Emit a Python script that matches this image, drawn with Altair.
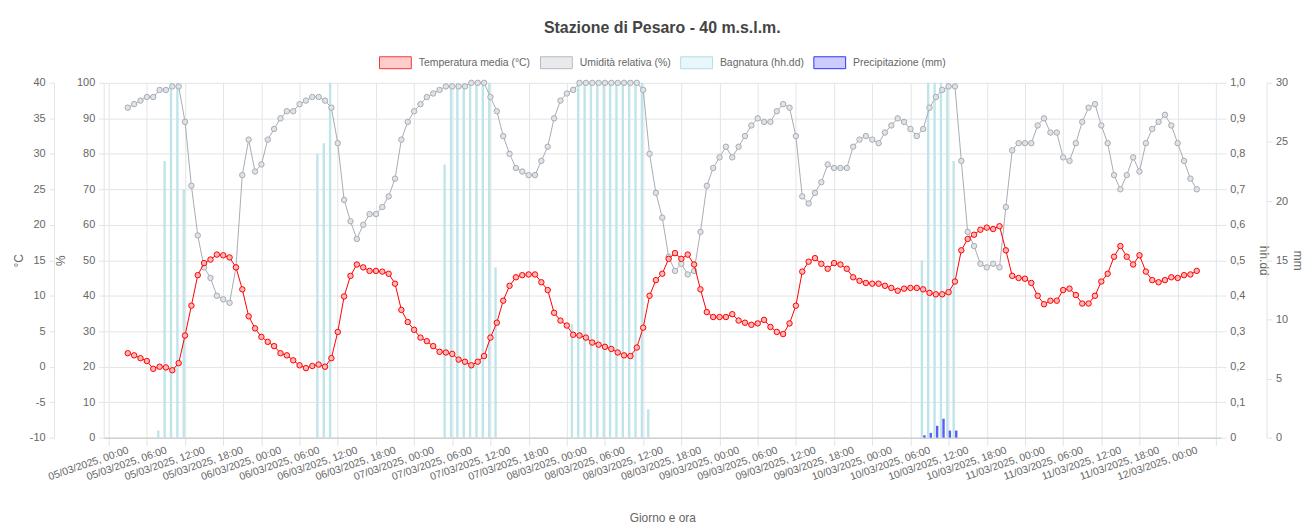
import json
import altair as alt
import pandas as pd

# ---------------- data (hourly, 05/03/2025 00:00 -> 12/03/2025 00:00) ----------------
temperature = [
    1.9, 1.6, 1.2, 0.8, -0.3, 0.0, -0.1, -0.5, 0.5, 4.4, 8.6, 12.9, 14.6, 15.1, 15.8, 15.7, 15.4, 14.0, 10.9, 7.1, 5.4, 4.2, 3.5, 2.9,
    1.9, 1.6, 0.9, 0.2, -0.2, 0.1, 0.3, 0.0, 1.2, 4.9, 9.9, 12.8, 14.4, 14.0, 13.5, 13.5, 13.4, 13.1, 11.7, 8.0, 6.3, 5.2, 4.1, 3.6,
    2.9, 2.1, 2.0, 1.8, 1.0, 0.7, 0.2, 0.7, 1.5, 4.1, 6.2, 9.3, 11.4, 12.6, 12.9, 13.0, 13.0, 11.9, 10.8, 7.6, 6.5, 5.8, 4.5, 4.4,
    4.1, 3.4, 3.1, 2.8, 2.5, 2.0, 1.6, 1.5, 2.7, 5.5, 10.0, 12.2, 13.1, 15.2, 16.0, 15.2, 15.8, 14.4, 10.9, 7.7, 7.0, 7.0, 7.0, 7.4,
    6.5, 6.2, 5.9, 6.1, 6.6, 5.6, 4.9, 4.6, 6.1, 8.6, 13.4, 14.8, 15.3, 14.5, 13.8, 14.6, 14.4, 13.8, 12.6, 12.1, 11.8, 11.7, 11.7, 11.4,
    11.1, 10.7, 11.0, 11.1, 11.1, 10.9, 10.4, 10.2, 10.2, 10.5, 12.0, 16.4, 18.0, 18.6, 19.3, 19.6, 19.4, 19.8, 16.4, 12.8, 12.5, 12.4, 11.8, 10.0,
    8.8, 9.3, 9.3, 10.8, 11.0, 10.1, 8.9, 8.9, 10.0, 12.0, 13.1, 15.5, 17.0, 15.5, 14.4, 15.7, 13.4, 12.2, 11.9, 12.2, 12.6, 12.5, 12.9, 13.0,
    13.5,
]
humidity = [
    93, 94, 95, 96, 96, 98, 98, 99, 99, 89, 71, 57, 48, 45, 40, 39, 38, 48, 74, 84, 75, 77, 84, 87,
    90, 92, 92, 94, 95, 96, 96, 95, 93, 83, 67, 61, 56, 60, 63, 63, 65, 68, 73, 84, 89, 92, 94, 96,
    97, 98, 99, 99, 99, 99, 100, 100, 100, 96, 92, 85, 80, 76, 75, 74, 74, 78, 82, 90, 95, 97, 98, 100,
    100, 100, 100, 100, 100, 100, 100, 100, 100, 98, 80, 69, 62, 51, 47, 49, 46, 47, 58, 71, 76, 79, 82, 79,
    82, 85, 88, 90, 89, 89, 92, 94, 93, 85, 68, 66, 69, 72, 77, 76, 76, 76, 82, 84, 85, 84, 83, 86,
    88, 90, 89, 87, 85, 87, 93, 96, 98, 99, 99, 78, 58, 54, 49, 48, 49, 48, 65, 81, 83, 83, 83, 88,
    90, 86, 86, 79, 78, 83, 89, 93, 94, 88, 83, 74, 70, 74, 79, 75, 83, 87, 89, 91, 88, 83, 78, 73,
    70,
]
bagnatura = [
    0, 0, 0, 0, 0, 0.02, 0.78, 1.0, 1.0, 0.70, 0, 0, 0, 0, 0, 0, 0, 0, 0, 0, 0, 0, 0, 0,
    0, 0, 0, 0, 0, 0, 0.80, 0.83, 1.0, 0, 0, 0, 0, 0, 0, 0, 0, 0, 0, 0, 0, 0, 0, 0,
    0, 0, 0.77, 1.0, 1.0, 1.0, 1.0, 1.0, 1.0, 1.0, 0.48, 0, 0, 0, 0, 0, 0, 0, 0, 0, 0, 0, 0.32, 1.0,
    1.0, 1.0, 1.0, 1.0, 1.0, 1.0, 1.0, 1.0, 1.0, 1.0, 0.08, 0, 0, 0, 0, 0, 0, 0, 0, 0, 0, 0, 0, 0,
    0, 0, 0, 0, 0, 0, 0, 0, 0, 0, 0, 0, 0, 0, 0, 0, 0, 0, 0, 0, 0, 0, 0, 0,
    0, 0, 0, 0, 0, 0.50, 1.0, 1.0, 1.0, 1.0, 0.78, 0, 0, 0, 0, 0, 0, 0, 0, 0, 0, 0, 0, 0,
    0, 0, 0, 0, 0, 0, 0, 0, 0, 0, 0, 0, 0, 0, 0, 0, 0, 0, 0, 0, 0, 0, 0, 0,
    0,
]
precipitazione = [
    0, 0, 0, 0, 0, 0, 0, 0, 0, 0, 0, 0, 0, 0, 0, 0, 0, 0, 0, 0, 0, 0, 0, 0,
    0, 0, 0, 0, 0, 0, 0, 0, 0, 0, 0, 0, 0, 0, 0, 0, 0, 0, 0, 0, 0, 0, 0, 0,
    0, 0, 0, 0, 0, 0, 0, 0, 0, 0, 0, 0, 0, 0, 0, 0, 0, 0, 0, 0, 0, 0, 0, 0,
    0, 0, 0, 0, 0, 0, 0, 0, 0, 0, 0, 0, 0, 0, 0, 0, 0, 0, 0, 0, 0, 0, 0, 0,
    0, 0, 0, 0, 0, 0, 0, 0, 0, 0, 0, 0, 0, 0, 0, 0, 0, 0, 0, 0, 0, 0, 0, 0,
    0, 0, 0, 0, 0, 0.2, 0.4, 1.0, 1.6, 0.6, 0.6, 0, 0, 0, 0, 0, 0, 0, 0, 0, 0, 0, 0, 0,
    0, 0, 0, 0, 0, 0, 0, 0, 0, 0, 0, 0, 0, 0, 0, 0, 0, 0, 0, 0, 0, 0, 0, 0,
    0,
]
tick_labels = [
    "05/03/2025, 00:00", "05/03/2025, 06:00", "05/03/2025, 12:00", "05/03/2025, 18:00",
    "06/03/2025, 00:00", "06/03/2025, 06:00", "06/03/2025, 12:00", "06/03/2025, 18:00",
    "07/03/2025, 00:00", "07/03/2025, 06:00", "07/03/2025, 12:00", "07/03/2025, 18:00",
    "08/03/2025, 00:00", "08/03/2025, 06:00", "08/03/2025, 12:00", "08/03/2025, 18:00",
    "09/03/2025, 00:00", "09/03/2025, 06:00", "09/03/2025, 12:00", "09/03/2025, 18:00",
    "10/03/2025, 00:00", "10/03/2025, 06:00", "10/03/2025, 12:00", "10/03/2025, 18:00",
    "11/03/2025, 00:00", "11/03/2025, 06:00", "11/03/2025, 12:00", "11/03/2025, 18:00",
    "12/03/2025, 00:00",
]
series_names = ["Temperatura media (°C)", "Umidità relativa (%)", "Bagnatura (hh.dd)", "Precipitazione (mm)"]
legend_fill = ["#ffcccc", "#e9eaec", "#e8f7f9", "#ccccff"]
legend_stroke = ["#ff3333", "#b4b8be", "#b0e0e6", "#3333ff"]

hours = list(range(len(temperature)))
df = pd.DataFrame({"h": hours, "t": temperature, "u": humidity,
                   "b": bagnatura, "p": precipitazione})

# ---------------- styling ----------------
FONT = "Liberation Sans, Arial, sans-serif"
FS = 11
GRID = "#e4e4e4"
TXT = "#666666"
RED = "#ff0000"
GRAY = "#a6acb3"

xscale = alt.Scale(domain=[-3, 171], nice=False, zero=False)
grid_vals = list(range(-3, 172, 6))
label_vals = list(range(0, 169, 6))
label_expr = json.dumps(tick_labels) + "[round(datum.value / 6)]"
plain_expr = "'' + datum.value"

base = alt.Chart(df)

bag = base.transform_filter("datum.b > 0").mark_bar(
    size=2.4, xOffset=-1.3, color="#bfe4ea"
).encode(
    x=alt.X("h:Q", scale=xscale,
            axis=alt.Axis(orient="bottom", values=grid_vals, grid=True, gridColor=GRID, gridWidth=1,
                          ticks=True, tickSize=8, tickColor=GRID, labels=False,
                          domain=True, domainColor="#d0d0d0", domainWidth=1.5, title=None)),
    y=alt.Y("b:Q", scale=alt.Scale(domain=[0, 1], nice=False),
            axis=alt.Axis(orient="right", offset=0, values=[i / 10 for i in range(11)],
                          labelExpr="datum.value == 0 ? '0' : replace(format(datum.value, '.1f'), '.', ',')",
                          grid=False, domain=False, tickSize=5, tickColor=GRID, labelPadding=4,
                          title="hh.dd", titleAngle=90, titlePadding=12)),
)

prec = base.transform_filter("datum.p > 0").mark_bar(
    size=2.4, xOffset=1.3, color="#5c5cf5"
).encode(
    x=alt.X("h:Q", scale=xscale, axis=None),
    y=alt.Y("p:Q", scale=alt.Scale(domain=[0, 30], nice=False),
            axis=alt.Axis(orient="right", offset=46, values=list(range(0, 31, 5)),
                          grid=False, domain=True, domainColor=GRID, tickSize=5, tickColor=GRID,
                          labelPadding=4, title="mm", titleAngle=90, titlePadding=3)),
)

hum = base.mark_line(
    color=GRAY, strokeWidth=1,
    point=alt.OverlayMarkDef(filled=True, fill="#dfe2e6", stroke=GRAY, strokeWidth=1, size=30),
).encode(
    x=alt.X("h:Q", scale=xscale, axis=None),
    y=alt.Y("u:Q", scale=alt.Scale(domain=[0, 100], nice=False),
            axis=alt.Axis(orient="left", offset=0, values=list(range(0, 101, 10)),
                          grid=True, gridColor=GRID, domain=True, domainColor=GRID,
                          tickSize=5, tickColor=GRID, labelPadding=4, labelExpr=plain_expr,
                          title="%", titlePadding=9)),
)

temp = base.mark_line(
    color=RED, strokeWidth=1,
    point=alt.OverlayMarkDef(filled=True, fill="#ffb8b8", stroke=RED, strokeWidth=1, size=30),
).encode(
    x=alt.X("h:Q", scale=xscale,
            axis=alt.Axis(orient="bottom", values=label_vals, grid=False, ticks=False, domain=False,
                          labelExpr=label_expr, labelAngle=-19, labelAlign="right",
                          labelBaseline="middle", labelPadding=12, labelOverlap=False,
                          labelBound=False, labelFlush=False, labelFontSize=10.5,
                          title="Giorno e ora", titlePadding=31)),
    y=alt.Y("t:Q", scale=alt.Scale(domain=[-10, 40], nice=False, zero=False),
            axis=alt.Axis(orient="left", offset=50, values=list(range(-10, 41, 5)),
                          grid=False, domain=True, domainColor=GRID,
                          tickSize=5, tickColor=GRID, labelPadding=4, labelExpr=plain_expr,
                          title="°C", titlePadding=4)),
)

RECT = "M-1,-0.375H1V0.375H-1Z"
legend_df = pd.DataFrame({"serie": series_names, "lx": [1000] * len(series_names)})
leg_def = alt.Legend(orient="none", legendX=277, legendY=-37, direction="horizontal",
                     title=None, symbolType=RECT, symbolSize=1024, symbolStrokeWidth=1,
                     labelFont=FONT, labelFontSize=10.5, labelColor=TXT, labelOffset=7,
                     columnPadding=7, padding=0, symbolOpacity=1)
legend_layer = alt.Chart(legend_df).mark_point(
    filled=True, clip=True, shape=RECT, size=1024, strokeWidth=1
).encode(
    x=alt.X("lx:Q", scale=xscale, axis=None),
    fill=alt.Fill("serie:N", scale=alt.Scale(domain=series_names, range=legend_fill), legend=leg_def),
    stroke=alt.Stroke("serie:N", scale=alt.Scale(domain=series_names, range=legend_stroke), legend=leg_def),
)

chart = alt.layer(bag, prec, hum, temp, legend_layer).resolve_scale(
    y="independent"
).resolve_axis(
    x="independent", y="independent"
).properties(
    width=1124, height=357,
    title=alt.TitleParams("Stazione di Pesaro - 40 m.s.l.m.", font="Liberation Sans",
                          fontSize=16, fontWeight="bold", color="#444444",
                          anchor="middle", offset=10, dx=0),
    autosize=alt.AutoSizeParams(type="none"),
    padding={"left": 96.3, "top": 73.7, "right": 84.7, "bottom": 91.3},
).configure_view(stroke=None).configure_axis(
    labelFont=FONT, titleFont=FONT, labelColor=TXT, titleColor=TXT,
    labelFontSize=FS, titleFontSize=12, titleFontWeight="normal",
)

chart.save("out.html", embed_options={"renderer": "svg", "actions": False})
